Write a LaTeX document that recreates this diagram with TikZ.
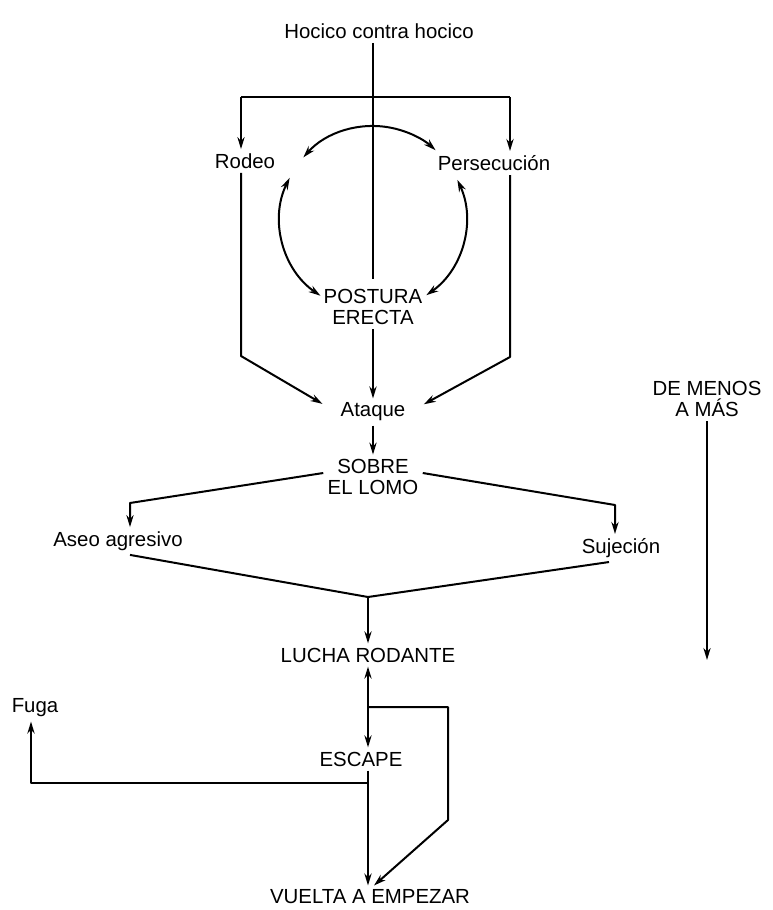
\documentclass[tikz,border=0pt]{standalone}
\usepackage{fontspec}
\setmainfont{Liberation Sans}
\usetikzlibrary{arrows.meta}
\begin{document}
\begin{tikzpicture}[x=0.5pt,y=-0.5pt,
  lbl/.style={inner sep=2pt, font=\fontsize{10.2}{10.8}\selectfont, align=center},
  conn/.style={line width=1pt, line join=round},
  tip/.style={conn, -{Stealth[length=6pt,width=3.6pt]}},
  tips/.style={conn, {Stealth[length=6pt,width=3.6pt]}-{Stealth[length=6pt,width=3.6pt]}}]
\useasboundingbox (0,0) rectangle (772,910);
\node[lbl] (hocico) at (379,31) {Hocico contra hocico};
\node[lbl] (rodeo) at (245,161) {Rodeo};
\node[lbl] (persec) at (494,163) {Persecución};
\node[lbl] (postura) at (373,307) {POSTURA\\ERECTA};
\node[lbl] (ataque) at (373,412) {Ataque};
\node[lbl] (sobre) at (373,477) {SOBRE\\EL LOMO};
\node[lbl] (aseo) at (118,541) {Aseo agresivo};
\node[lbl] (sujecion) at (621,548) {Sujeción};
\node[lbl] (lucha) at (368,655) {LUCHA RODANTE};
\node[lbl] (escape) at (361,759) {ESCAPE};
\node[lbl] (vuelta) at (370,897) {VUELTA A EMPEZAR};
\node[lbl] (fuga) at (35,708) {Fuga};
\node[lbl] (menos) at (707,399) {DE MENOS\\A MÁS};
\coordinate (bl) at (241,97);
\coordinate (br) at (510,97);
\coordinate (lc) at (241,356);
\coordinate (rc) at (510,357);
\coordinate (cc) at (373,219);
\coordinate (al) at (130,503);
\coordinate (ar) at (615,505);
\coordinate (join) at (368,597);
\coordinate (b2) at (448,707);
\coordinate (b3) at (448,820);
\coordinate (f1) at (31,783);
\coordinate (mend) at (707,660);
% main stem
\draw[conn, shorten >=3pt] (hocico.south -| postura) -- (postura.north);
\draw[conn] (bl) -- (br);
\draw[tip] (bl) -- (bl |- rodeo.north);
\draw[tip] (br) -- (br |- persec.north);
% circle
\draw[tips] ([shift={(138.5:46.5pt)}]cc) arc[start angle=138.5, end angle=47.7, radius=46.5pt];
\draw[tips] ([shift={(153.7:46.5pt)}]cc) arc[start angle=153.7, end angle=235.6, radius=46.5pt];
\draw[tips] ([shift={(24.9:46.5pt)}]cc) arc[start angle=24.9, end angle=-55, radius=46.5pt];
% to ataque
\draw[tip, shorten >=8pt] (bl |- rodeo.south) -- (lc) -- (ataque.west);
\draw[tip, shorten >=8pt] (br |- persec.south) -- (rc) -- (ataque.east);
\draw[tip] (postura.south) -- (ataque.north);
\draw[tip] (ataque.south) -- (sobre.north);
% sobre branches
\draw[tip] ([yshift=2pt]sobre.west) -- (al) -- (al |- aseo.north);
\draw[tip] ([yshift=2pt]sobre.east) -- (ar) -- (ar |- sujecion.north);
\draw[conn] (al |- aseo.south) -- (join);
\draw[conn] ([xshift=-6pt]sujecion.south) -- (join);
\draw[tip] (join) -- (lucha.north -| join);
% lucha / escape
\draw[tips] (lucha.south) -- (lucha.south |- escape.north);
\draw[tip] (lucha.south |- b2) -- (b2) -- (b3) -- ([xshift=2pt]vuelta.north);
\draw[tip] (escape.south -| lucha.south) -- (vuelta.north -| lucha.south);
\draw[tip] (lucha.south |- f1) -- (f1) -- (f1 |- fuga.south);
% side arrow
\draw[tip] (menos.south) -- (mend);
\end{tikzpicture}
\end{document}
